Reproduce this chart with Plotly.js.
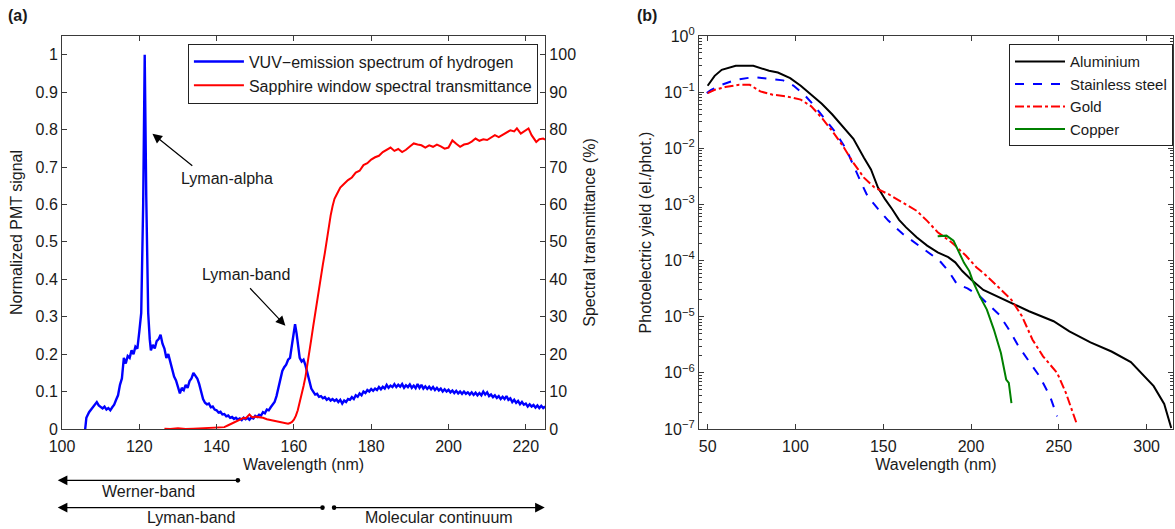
<!DOCTYPE html>
<html>
<head>
<meta charset="utf-8">
<script src="https://cdn.plot.ly/plotly-3.0.1.min.js"></script>
<style>html,body{margin:0;padding:0;background:#fff;}#chart{width:1175px;height:529px;}</style>
</head>
<body>
<div id="chart"></div>
<script>
// ---------- Panel (a): VUV emission spectrum of hydrogen ----------
const vuvWavelength = [106,106.3,107,107.5,108,108.5,109,109.5,110,110.5,111,111.5,112,112.5,113,113.5,114,114.5,115,115.5,116,116.5,117,117.5,118,118.5,119,119.5,120,120.5,121,121.4,121.8,122.3,122.7,123,123.5,124,124.5,125,125.5,126,126.5,127,127.5,128,128.5,129,129.5,130,130.5,131,131.5,132,132.5,133,133.5,134,134.5,135,135.5,136,136.5,137,137.5,138,138.5,139,139.5,140,140.5,141,141.5,142,142.5,143,143.5,144,144.5,145,145.5,146,146.5,147,147.5,148,148.5,149,149.5,150,150.5,151,151.5,152,152.5,153,153.5,154,154.5,155,155.5,156,156.5,157,157.5,158,158.5,159,159.5,160,160.3,160.7,161,161.5,162,162.5,163,163.5,164,164.5,165,165.5,166,166.5,167,167.5,168,168.5,169,169.5,170,170.5,171,171.5,172,172.5,173,173.5,174,174.5,175,175.5,176,176.5,177,177.5,178,178.5,179,179.5,180,180.5,181,181.5,182,182.5,183,183.5,184,184.5,185,185.5,186,186.5,187,187.5,188,188.5,189,189.5,190,190.5,191,191.5,192,192.5,193,193.5,194,194.5,195,195.5,196,196.5,197,197.5,198,198.5,199,199.5,200,200.5,201,201.5,202,202.5,203,203.5,204,204.5,205,205.5,206,206.5,207,207.5,208,208.5,209,209.5,210,210.5,211,211.5,212,212.5,213,213.5,214,214.5,215,215.5,216,216.5,217,217.5,218,218.5,219,219.5,220,220.5,221,221.5,222,222.5,223,223.5,224,224.5,225];
const vuvSignal = [0.0,0.03,0.045,0.052,0.058,0.065,0.072,0.063,0.058,0.055,0.06,0.052,0.056,0.05,0.058,0.065,0.078,0.09,0.118,0.135,0.19,0.175,0.195,0.19,0.21,0.2,0.22,0.215,0.26,0.31,0.6,1.0,0.62,0.31,0.24,0.21,0.225,0.215,0.235,0.24,0.252,0.228,0.215,0.19,0.2,0.178,0.16,0.14,0.13,0.11,0.095,0.11,0.104,0.118,0.11,0.128,0.135,0.15,0.142,0.135,0.12,0.098,0.08,0.07,0.066,0.068,0.058,0.06,0.052,0.05,0.044,0.046,0.039,0.04,0.034,0.036,0.03,0.032,0.027,0.03,0.025,0.028,0.024,0.03,0.026,0.03,0.025,0.031,0.028,0.035,0.032,0.038,0.036,0.045,0.042,0.052,0.05,0.058,0.065,0.072,0.088,0.11,0.135,0.155,0.165,0.172,0.185,0.19,0.225,0.265,0.28,0.255,0.225,0.19,0.18,0.185,0.17,0.15,0.13,0.108,0.1,0.092,0.094,0.086,0.088,0.082,0.085,0.078,0.082,0.076,0.08,0.075,0.079,0.072,0.078,0.068,0.076,0.072,0.08,0.078,0.085,0.08,0.09,0.086,0.095,0.09,0.1,0.096,0.104,0.1,0.107,0.102,0.108,0.104,0.112,0.106,0.113,0.108,0.118,0.11,0.116,0.112,0.12,0.112,0.118,0.113,0.12,0.11,0.117,0.112,0.119,0.11,0.116,0.109,0.12,0.11,0.118,0.108,0.114,0.107,0.113,0.106,0.112,0.104,0.11,0.103,0.108,0.1,0.106,0.1,0.105,0.098,0.103,0.096,0.102,0.095,0.1,0.094,0.1,0.094,0.098,0.092,0.098,0.091,0.097,0.09,0.096,0.09,0.1,0.092,0.098,0.088,0.092,0.085,0.09,0.083,0.088,0.08,0.086,0.08,0.088,0.078,0.082,0.072,0.078,0.07,0.075,0.066,0.072,0.065,0.068,0.06,0.066,0.06,0.064,0.057,0.063,0.056,0.062,0.056,0.06];

// ---------- Panel (a): sapphire window transmittance (%) ----------
const sapphireWavelength = [126.5,128,130,132,134,136,138,140,141,142,143,144,145,146,147,147.5,148,148.5,149,149.5,150,151,152,153,154,155,156,157,158,158.5,159,159.5,160,160.5,161,161.5,162,162.5,163,163.5,164,164.5,165,165.5,166,166.5,167,167.5,168,168.5,169,169.5,170,170.5,171,171.5,172,173,174,175,176,177,178,179,180,181,182,183,184,185,186,187,188,189,190,191,192,193,194,195,196,197,198,199,200,201,202,203,204,205,206,207,208,209,210,211,212,213,214,215,216,217,217.7,218.7,219.5,220.2,220.7,221.5,222.7,223.5,224.5,225];
const sapphireTransmittance = [0.1,0.0,0.2,0.0,0.1,0.2,0.3,0.4,0.6,0.5,1.0,1.5,2.2,2.6,3.0,2.8,3.4,3.9,3.3,3.1,3.3,3.2,3.0,2.6,2.4,2.2,2.0,1.8,1.5,1.4,1.6,1.9,2.5,3.5,5.0,7.0,9.5,11.5,14,17,20,24,27.5,31,34,37.5,41,44,47,50.5,54,57,59.5,61.5,62.5,63.5,64.5,65.5,66.5,67.2,68.5,69.0,70.5,71,72,72.6,73.0,74.0,74.5,75.2,74.3,74.8,74.0,74.6,75.5,76.3,76.0,75.8,75.2,75.8,75.4,76.0,75.5,74.9,75.2,77.1,76.2,75.4,76.0,76.2,76.8,77.6,77.0,77.4,77.2,77.8,78.5,78.0,78.6,79.2,79.8,79.5,80.3,78.9,79.5,80.0,80.3,78.5,76.7,77.4,77.6,77.3];

// ---------- Panel (b): photoelectric yield (el./phot.) ----------
const alWavelength = [50,54,58,62,66,76,80,85,90,97,103,109,115,121,127,133,139,143,147,151,155,159,163,169,175,181,187,191,195,200,207,215,223,233,247,256,268,280,291,298,304,310,314];
const alYield = [0.13,0.195,0.25,0.275,0.294,0.294,0.267,0.24,0.224,0.178,0.13,0.09,0.062,0.04,0.0247,0.0148,0.0068,0.0042,0.002,0.00124,8.3e-4,5.3e-4,3.9e-4,2.6e-4,1.85e-4,1.4e-4,1.15e-4,9.3e-5,6.5e-5,4.6e-5,3.0e-5,2.3e-5,1.76e-5,1.25e-5,8.3e-6,5.5e-6,3.5e-6,2.4e-6,1.56e-6,9.3e-7,5.8e-7,2.8e-7,1.04e-7];

const ssWavelength = [49.5,52,58,66,76,85,93,99,105,111,117,123,129,133,137,141,147,153,161,171,177,182,187,192,198,205,211,216,221,227,233,239,245,249];
const ssYield = [0.096,0.11,0.135,0.166,0.185,0.17,0.162,0.13,0.09,0.056,0.0325,0.0188,0.0095,0.0048,0.0026,0.00142,8.3e-4,5.1e-4,3.0e-4,1.78e-4,1.32e-4,1.0e-4,6.6e-5,3.8e-5,3.2e-5,2.3e-5,1.53e-5,1.09e-5,6.3e-6,3.0e-6,1.6e-6,8.7e-7,3.8e-7,1.68e-7];

const auWavelength = [50,54,60,68,74,80,87,95,103,109,115,121,127,133,139,145,153,161,169,175,181,189,197,203,207,215,223,229,235,241,249,254,260];
const auYield = [0.096,0.11,0.123,0.135,0.135,0.103,0.09,0.084,0.0735,0.056,0.0348,0.0202,0.011,0.0055,0.003,0.002,0.00152,0.00108,7.7e-4,5.1e-4,3.2e-4,2.1e-4,1.23e-4,7.6e-5,6.0e-5,3.5e-5,2.0e-5,1.02e-5,3.9e-6,1.97e-6,1.0e-6,4.4e-7,1.28e-7];

const cuWavelength = [181,186,190,194,196,199,201,205,209,213,217,220,221.5,223];
const cuYield = [2.7e-4,2.78e-4,2.26e-4,1.23e-4,9.1e-5,6.5e-5,4.3e-5,2.3e-5,1.34e-5,5.9e-6,2.26e-6,7.6e-7,6.6e-7,2.9e-7];

// tick labels of the log axis
const logTickVals = [1e-7,1e-6,1e-5,1e-4,1e-3,1e-2,1e-1,1];
const logTickText = ['10<sup>\u22127</sup>','10<sup>\u22126</sup>','10<sup>\u22125</sup>','10<sup>\u22124</sup>','10<sup>\u22123</sup>','10<sup>\u22122</sup>','10<sup>\u22121</sup>','10<sup>0</sup>'];

// minor ticks (2..9 in every decade)
const minorVals = [];
for (let e = -7; e < 0; e++) { for (let m = 2; m <= 9; m++) minorVals.push(m * Math.pow(10, e)); }

const FONT = 'Liberation Sans, Arial, Helvetica, sans-serif';
const AX = '#3a3a3a';
const TXT = '#1a1a1a';

const traces = [
  {x: vuvWavelength, y: vuvSignal, type: 'scatter', mode: 'lines', name: 'VUV\u2212emission spectrum of hydrogen',
   line: {color: '#0000ff', width: 2.4}, xaxis: 'x', yaxis: 'y', legend: 'legend'},
  {x: sapphireWavelength, y: sapphireTransmittance, type: 'scatter', mode: 'lines', name: 'Sapphire window spectral transmittance',
   line: {color: '#ff0000', width: 2}, xaxis: 'x', yaxis: 'y2', legend: 'legend'},
  {x: alWavelength, y: alYield, type: 'scatter', mode: 'lines', name: 'Aluminium',
   line: {color: '#000000', width: 2}, xaxis: 'x2', yaxis: 'y3', legend: 'legend2'},
  {x: ssWavelength, y: ssYield, type: 'scatter', mode: 'lines', name: 'Stainless steel',
   line: {color: '#0000ff', width: 2, dash: 'dash'}, xaxis: 'x2', yaxis: 'y3', legend: 'legend2'},
  {x: auWavelength, y: auYield, type: 'scatter', mode: 'lines', name: 'Gold',
   line: {color: '#ff0000', width: 2, dash: 'dashdot'}, xaxis: 'x2', yaxis: 'y3', legend: 'legend2'},
  {x: cuWavelength, y: cuYield, type: 'scatter', mode: 'lines', name: 'Copper',
   line: {color: '#008000', width: 2}, xaxis: 'x2', yaxis: 'y3', legend: 'legend2'}
];

const common = {showgrid: false, zeroline: false, showline: true, linecolor: AX, linewidth: 1,
  ticks: 'inside', ticklen: 5, tickcolor: AX, tickfont: {family: FONT, size: 16, color: TXT}};

function ann(o) { return Object.assign({font: {family: FONT, size: 16, color: TXT}, xanchor: 'center', yanchor: 'middle', showarrow: false}, o); }
function arrow(o) { return Object.assign({text: '', showarrow: true, arrowhead: 2, arrowsize: 1.6, arrowwidth: 1.2, arrowcolor: '#000'}, o); }
function dot(x, y) {
  return {type: 'circle', xref: 'x', yref: 'paper', xsizemode: 'pixel', ysizemode: 'pixel', xanchor: x, yanchor: y,
    x0: -2.3, x1: 2.3, y0: -2.3, y1: 2.3, fillcolor: '#000', line: {width: 0}};
}

const layout = {
  width: 1175, height: 529,
  margin: {l: 62.3, r: 2, t: 35.7, b: 99.7},
  paper_bgcolor: '#fff', plot_bgcolor: '#fff',
  font: {family: FONT, size: 16, color: TXT},
  xaxis: Object.assign({}, common, {domain: [0, 0.43486], anchor: 'y', range: [100, 225], tick0: 100, dtick: 20, mirror: 'ticks',
    ticklabelstandoff: 3,
    title: {text: 'Wavelength (nm)', standoff: 4, font: {family: FONT, size: 16, color: TXT}}}),
  yaxis: Object.assign({}, common, {domain: [0, 1], anchor: 'x', range: [0, 1.05], tick0: 0, dtick: 0.1,
    title: {text: 'Normalized PMT signal', standoff: 8, font: {family: FONT, size: 16, color: TXT}}}),
  yaxis2: Object.assign({}, common, {overlaying: 'y', side: 'right', anchor: 'x', range: [0, 105], tick0: 0, dtick: 10,
    title: {text: 'Spectral transmittance (%)', standoff: 8, font: {family: FONT, size: 16, color: TXT}}}),
  xaxis2: Object.assign({}, common, {domain: [0.57324, 1], anchor: 'y3', range: [45, 315], tick0: 50, dtick: 50, mirror: 'ticks',
    ticklabelstandoff: 3,
    title: {text: 'Wavelength (nm)', standoff: 4, font: {family: FONT, size: 16, color: TXT}}}),
  yaxis3: Object.assign({}, common, {domain: [0, 1], anchor: 'x2', type: 'log', range: [-7, 0], mirror: 'ticks',
    tickmode: 'array', tickvals: logTickVals, ticktext: logTickText,
    minor: {tickmode: 'array', tickvals: minorVals, ticks: 'inside', ticklen: 3, tickcolor: AX, showgrid: false},
    title: {text: 'Photoelectric yield (el./phot.)', standoff: 8, font: {family: FONT, size: 16, color: TXT}}}),
  legend: {x: 0.42837, xanchor: 'right', y: 0.9807, yanchor: 'top', bgcolor: '#fff', bordercolor: '#222', borderwidth: 1,
    font: {family: FONT, size: 16, color: TXT}, itemwidth: 50, tracegroupgap: 0},
  legend2: {x: 1, xanchor: 'right', y: 0.9789, yanchor: 'top', bgcolor: '#fff', bordercolor: '#222', borderwidth: 1,
    font: {family: FONT, size: 15, color: TXT}, itemwidth: 50, tracegroupgap: 0},
  shapes: [dot(145.5, -0.1306), dot(167.4, -0.2), dot(170.4, -0.2)],
  annotations: [
    ann({text: '<b>(a)</b>', xref: 'paper', yref: 'paper', x: -0.0399, y: 1.0526}),
    ann({text: '<b>(b)</b>', xref: 'paper', yref: 'paper', x: 0.5264, y: 1.0526}),
    // Lyman-alpha label + arrow
    ann({text: 'Lyman-alpha', xref: 'x', yref: 'y', x: 142.66, y: 0.669}),
    arrow({xref: 'x', yref: 'y', x: 123.4, y: 0.789, axref: 'x', ayref: 'y', ax: 134.1, ay: 0.70}),
    // Lyman-band label + arrow
    ann({text: 'Lyman-band', xref: 'x', yref: 'y', x: 147.6, y: 0.4136}),
    arrow({xref: 'x', yref: 'y', x: 157.8, y: 0.276, axref: 'x', ayref: 'y', ax: 148.3, ay: 0.38}),
    // band ranges below the axis
    arrow({xref: 'x', yref: 'paper', x: 98.9, y: -0.1306, axref: 'x', ayref: 'pixel', ax: 145.5, ay: 0}),
    arrow({xref: 'x', yref: 'paper', x: 98.9, y: -0.2, axref: 'x', ayref: 'pixel', ax: 167.4, ay: 0}),
    arrow({xref: 'x', yref: 'paper', x: 224.9, y: -0.2, axref: 'x', ayref: 'pixel', ax: 170.4, ay: 0}),
    ann({text: 'Werner-band', xref: 'x', yref: 'paper', x: 122.4, y: -0.1585}),
    ann({text: 'Lyman-band', xref: 'x', yref: 'paper', x: 133.3, y: -0.2246}),
    ann({text: 'Molecular continuum', xref: 'x', yref: 'paper', x: 197.5, y: -0.2254})
  ]
};

Plotly.newPlot('chart', traces, layout, {displayModeBar: false, staticPlot: true});
</script>
</body>
</html>
